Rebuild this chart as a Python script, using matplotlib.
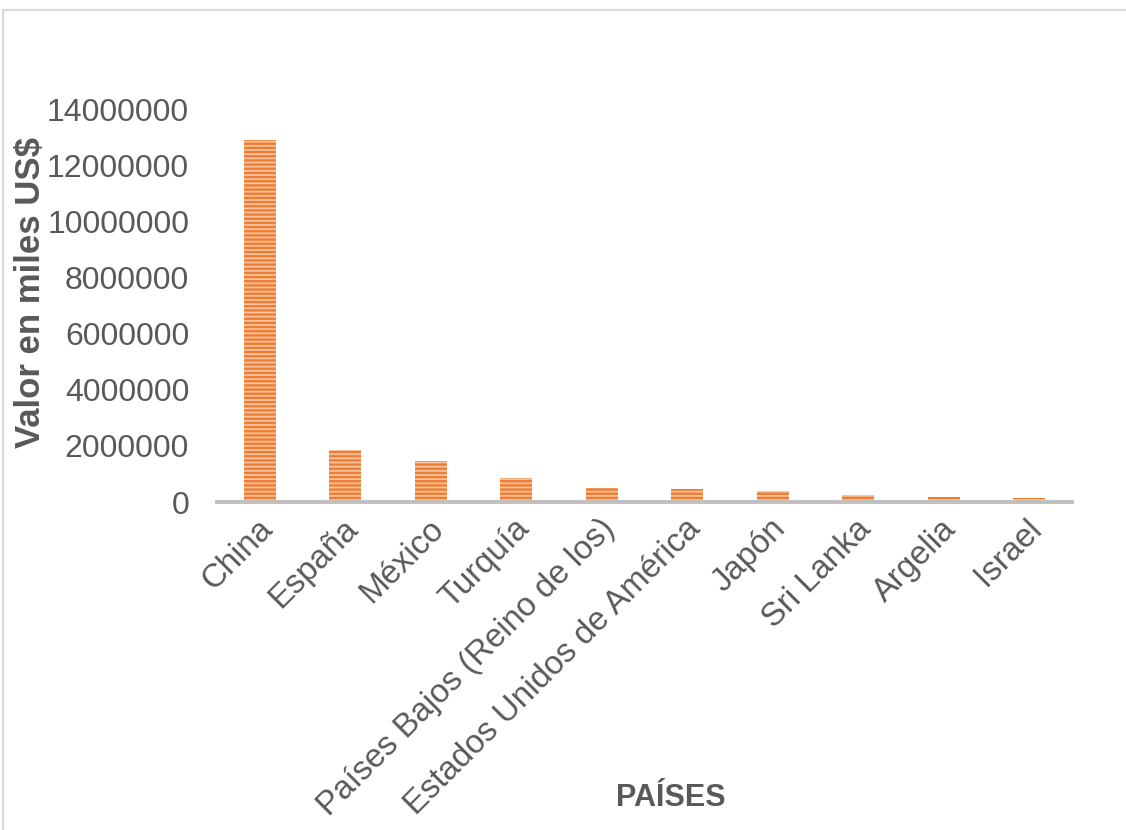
import matplotlib
matplotlib.use("Agg")
import matplotlib.pyplot as plt
from matplotlib.patches import Rectangle
from matplotlib.transforms import ScaledTranslation

# Export value per destination country (thousands of US$)
paises = ["China", "España", "México", "Turquía", "Países Bajos (Reino de los)",
          "Estados Unidos de América", "Japón", "Sri Lanka", "Argelia", "Israel"]
valores = [12890000, 1850000, 1460000, 855000, 510000, 460000, 380000, 250000, 170000, 140000]
yticks = [0, 2000000, 4000000, 6000000, 8000000, 10000000, 12000000, 14000000]

TEXT = "#595959"
plt.rcParams["font.family"] = ["Liberation Sans", "DejaVu Sans"]
plt.rcParams["hatch.linewidth"] = 1.7

fig = plt.figure(figsize=(11.26, 8.30), dpi=100)
W, H = 1126, 830
ax = fig.add_axes([217 / W, 1 - 502 / H, (1072 - 217) / W, (502 - 109) / H])

# outer chart frame
fig.patches.append(Rectangle((3 / W, -0.1), 1.2, 1 - 10 / H + 0.1, transform=fig.transFigure,
                             fill=False, edgecolor="#D9D9D9", linewidth=1.5, zorder=0))

x = range(len(paises))
ax.bar(x, valores, width=0.375, color="#F8C3A0", edgecolor="#ED7D31",
       linewidth=0, hatch="----", zorder=2)

ax.set_xlim(-0.5, len(paises) - 0.5)
ax.set_ylim(0, 14000000)
ax.set_yticks(yticks)
ax.set_yticklabels([str(v) for v in yticks])
ax.set_xticks(list(x))
ax.set_xticklabels(paises, rotation=45, ha="right", va="center", rotation_mode="anchor")

for s in ("top", "right", "left"):
    ax.spines[s].set_visible(False)
ax.spines["bottom"].set_color("#BFBFBF")
ax.spines["bottom"].set_linewidth(2.8)
ax.spines["bottom"].set_zorder(3)

ax.tick_params(axis="y", length=0, pad=20, labelsize=23, labelcolor=TEXT)
ax.tick_params(axis="x", length=0, pad=16, labelsize=23.7, labelcolor=TEXT)

# nudge the slanted category labels slightly to the right
shift = ScaledTranslation(8 / 100, 0, fig.dpi_scale_trans)
for lbl in ax.get_xticklabels():
    lbl.set_transform(lbl.get_transform() + shift)

ax.set_ylabel("Valor en miles US$", fontsize=25, fontweight="bold", color=TEXT, va="center")
ax.yaxis.set_label_coords((31 - 217) / (1072 - 217), (502 - 293) / (502 - 109))
ax.set_xlabel("PAÍSES", fontsize=22, fontweight="bold", color=TEXT, va="center")
ax.xaxis.set_label_coords((671 - 217) / (1072 - 217), (502 - 798) / (502 - 109))

fig.savefig("out.png", dpi=100)
